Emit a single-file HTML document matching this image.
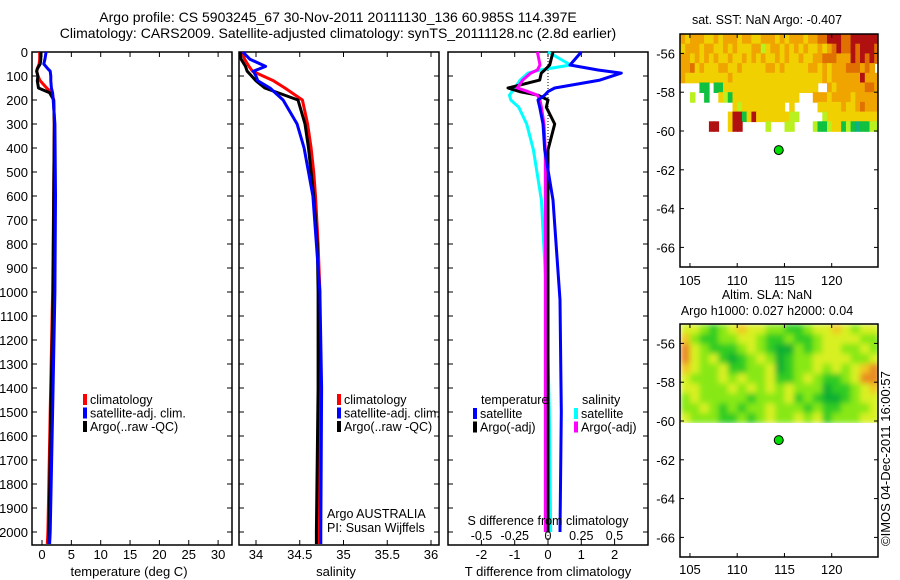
<!DOCTYPE html>
<html><head><meta charset="utf-8">
<style>
html,body{margin:0;padding:0;background:#fff;}
svg{display:block;font-family:"Liberation Sans",sans-serif;}
text{fill:#000;}
</style></head>
<body>
<svg id="fig" width="900" height="580" viewBox="0 0 900 580" xmlns="http://www.w3.org/2000/svg">
<text x="338" y="22" font-size="14" text-anchor="middle">Argo profile: CS 5903245_67 30-Nov-2011 20111130_136 60.985S 114.397E</text>
<text x="338" y="38" font-size="14" text-anchor="middle">Climatology: CARS2009. Satellite-adjusted climatology: synTS_20111128.nc (2.8d earlier)</text>
<g id="g1"></g>
<g id="g2"></g>
<g id="g3"></g>
<g id="g4"></g>
<g id="g5"></g>
<text transform="translate(890,546) rotate(-90)" font-size="13">©IMOS 04-Dec-2011 16:00:57</text>
</svg>
<script>
// ---- profile data ----
const tDepth = [0, 30, 50, 70, 80, 100, 120, 150, 170, 200, 300, 600, 1000, 1500, 2000, 2050];
const tClim  = [-0.4, -0.4, -0.5, -0.8, -0.9, -0.7, -0.3, 0.8, 1.7, 2.0, 2.1, 2.0, 1.8, 1.4, 1.0, 0.9];
const tSat   = [0.7, 0.5, 0.3, 1.0, 1.4, 1.5, 1.5, 1.6, 1.8, 1.9, 2.2, 2.3, 2.2, 1.8, 1.4, 1.3];
const tArgo  = [-0.2, -0.2, -0.3, -0.8, -0.9, -0.7, -0.8, -0.6, 1.3, 2.0, 2.1, 2.0, 1.9, 1.5, 1.2, 1.2];

const sDepth = [0, 30, 60, 80, 100, 120, 150, 200, 300, 400, 500, 600, 800, 1000, 1400, 2000, 2050];
const sClim  = [33.85, 33.87, 33.92, 33.96, 34.08, 34.2, 34.33, 34.53, 34.59, 34.63, 34.66, 34.68, 34.71, 34.73, 34.72, 34.71, 34.71];
const sSat   = [33.85, 33.93, 34.11, 33.97, 34.0, 34.02, 34.16, 34.31, 34.47, 34.55, 34.6, 34.65, 34.69, 34.73, 34.75, 34.74, 34.74];
const sArgo  = [33.82, 33.83, 33.88, 33.9, 33.95, 34.0, 34.1, 34.48, 34.56, 34.6, 34.63, 34.66, 34.7, 34.71, 34.71, 34.69, 34.69];

const dDepth    = [0, 54, 75, 88, 117, 150, 165, 180, 200, 230, 300, 408, 617, 1033, 1500, 2000];
const dTsat     = [1.0, 0.66, 1.5, 2.2, 1.56, 0.2, 0.0, -0.1, -0.3, -0.25, -0.15, -0.1, 0.15, 0.36, 0.4, 0.36];
const dTargo    = [0.15, 0.05, -0.1, -0.2, -0.25, -1.2, -0.85, -0.3, 0.0, -0.05, 0.2, 0.0, 0.0, 0.0, 0.0, 0.0];
const dSsat     = [0.0, 0.17, -0.06, -0.15, -0.21, -0.25, -0.27, -0.29, -0.28, -0.22, -0.16, -0.11, -0.05, -0.01, 0.01, 0.02];
const dSargo    = [-0.08, -0.06, -0.08, -0.13, -0.19, -0.23, -0.15, -0.08, -0.06, -0.05, -0.03, -0.02, -0.02, -0.02, -0.02, -0.02];

const depthTicks = [0,100,200,300,400,500,600,700,800,900,1000,1100,1200,1300,1400,1500,1600,1700,1800,1900,2000];
const tempTicks = [0,5,10,15,20,25,30];
const salTicks = [34,34.5,35,35.5,36];
const tdTicks = [-2,-1,0,1,2];
const sdTicks = [-0.5,-0.25,0,0.25,0.5];
const sdTickLabels = ["-0.5","-0.25","0","0.25","0.5"];

// ---- map data ----
const sstLon0 = 104, sstLat0 = -55, sstStepLon = 0.5, sstStepLat = 0.5;
const sstRows = [
 "oyoooyyoyoooyooyyoooyoyoooyoorrRRRrrRRRRRR",
 "yoooyooyyoyoyyyoolyooyoyoyoyyoyorRrrRrRRRr",
 "ooyoyoyoyyoyyoyoyoyyoyoyyoyyoorrroooRrRrRr",
 "ooryoyyyooyyoyyyyyooyoyyyyyooyoyooorrroro",
 "oyyyyyyyyyoyyyyyyyyyyyyyyyyyyyoyooooooRooo",
 "....gg.ggyyyyyyyyyyyyyyyyyyyy..oyoooooorroo",
 "..l..g..ylgyyyyyyyyyyyyyy...oooyooooyooooo",
 "...........ylyyyyyyyyy.y.....yyyyyoyyorooo",
 "..........yRRgyRyyyyyyyll.....lyyyyyyyyyyyy",
 "......RR..yRR.....l...ll....lgglyyglgtggll"
];
const sstColors = {y:"#f0d000", o:"#f0a400", r:"#e07000", R:"#b01010", l:"#b8f020", g:"#10c040", t:"#10b080"};

const slaRows = [
 "ddcbcdeddccbbcddedcdd",
 "ecbbccddcbbcbbcddddcc",
 "fdcbbbcdcbaacbcddccdc",
 "fdcdbabcdcabccddddccd",
 "edccdbbccdabccdcdcdef",
 "dcccdcdccdbbcdcbbcdff",
 "ddcccdcdcdcdcccabbcde",
 "cdcccccbcccdbcbaabcdd",
 "ccdcbcbccdcccbcbbcccd",
 "dcccbbcbcdccdcdbcccdd"
];
const slaColors = {a:"#10b030", b:"#30cc20", c:"#88e818", d:"#d8f020", e:"#f0c820", f:"#e88a20"};
const floatLon = 114.397, floatLat = -60.985;
const lonTicks = [105,110,115,120];
const latTicks = [-56,-58,-60,-62,-64,-66];

// ---- helpers ----
const NS = "http://www.w3.org/2000/svg";
function mk(parent, tag, attrs){ const e=document.createElementNS(NS,tag); for(const k in attrs) e.setAttribute(k,attrs[k]); parent.appendChild(e); return e; }
function txt(parent, x, y, s, size, anchor){ const t=mk(parent,"text",{x:x,y:y,"font-size":size,"text-anchor":anchor||"start"}); t.textContent=s; return t; }

const Y0 = 52, YPX = 0.24, YB = 545;
const yD = d => Y0 + d*YPX;

function frame(g, x0, x1, yt, yb){
  const r = mk(g,"rect",{x:x0,y:yt,width:x1-x0,height:yb-yt,fill:"none",stroke:"#000","stroke-width":1.5});
  
  
}
function depthAxis(g, x0, x1, labels){
  depthTicks.forEach(d=>{
    const y=yD(d);
    mk(g,"line",{x1:x0,x2:x0+5,y1:y,y2:y,stroke:"#000"});
    mk(g,"line",{x1:x1-5,x2:x1,y1:y,y2:y,stroke:"#000"});
    if(labels){ const t=txt(g,x0-4,y+5,String(d),13,"end");
      
       }
  });
}
function xAxis(g, ticks, sx, yt, yb, labelY, labels){
  ticks.forEach((v,i)=>{
    const x=sx(v);
    mk(g,"line",{x1:x,x2:x,y1:yt,y2:yt+5,stroke:"#000"});
    mk(g,"line",{x1:x,x2:x,y1:yb-5,y2:yb,stroke:"#000"});
    if(labelY){ const t=txt(g,x,labelY,labels?labels[i]:String(v),13,"middle");
      
       }
  });
}
function profile(g, depths, vals, sx, color, w, name){
  const pts = depths.map((d,i)=>sx(vals[i]).toFixed(1)+","+yD(d).toFixed(1)).join(" ");
  const p = mk(g,"polyline",{points:pts,fill:"none",stroke:color,"stroke-width":w,"stroke-linejoin":"round"});
  
  
}
function legend(g, x, y, items){
  items.forEach((it,i)=>{
    mk(g,"rect",{x:x,y:y+i*13.5-10,width:4,height:11,fill:it[1]});
    const t=txt(g,x+7,y+i*13.5,it[0],12.5);
    
    
  });
}

// ---- panel 1: temperature ----
const g1=document.getElementById("g1");
const sxT = v => 42 + v*5.87;
frame(g1,32,232,Y0,YB);
depthAxis(g1,32,232,true);
xAxis(g1,tempTicks,sxT,Y0,YB,559);
profile(g1,tDepth,tClim,sxT,"#ff0000",3,"temp-climatology-line");
profile(g1,tDepth,tArgo,sxT,"#000000",3,"temp-argo-line");
profile(g1,tDepth,tSat,sxT,"#0000ff",3,"temp-satellite-line");
legend(g1,83,404,[["climatology","#ff0000"],["satellite-adj. clim.","#0000ff"],["Argo(..raw -QC)","#000"]]);
{const t=txt(g1,129,576,"temperature (deg C)",13,"middle");  }

// ---- panel 2: salinity ----
const g2=document.getElementById("g2");
const sxS = v => 256 + (v-34)*87.5;
frame(g2,239,439,Y0,YB);
depthAxis(g2,239,439,false);
xAxis(g2,salTicks,sxS,Y0,YB,559);
profile(g2,sDepth,sClim,sxS,"#ff0000",3,"sal-climatology-line");
profile(g2,sDepth,sArgo,sxS,"#000000",3,"sal-argo-line");
profile(g2,sDepth,sSat,sxS,"#0000ff",3,"sal-satellite-line");
legend(g2,337,404,[["climatology","#ff0000"],["satellite-adj. clim.","#0000ff"],["Argo(..raw -QC)","#000"]]);
{const t=txt(g2,327,518,"Argo AUSTRALIA",12.5);  }
{const t=txt(g2,327,532,"PI: Susan Wijffels",12.5);  }
{const t=txt(g2,336,576,"salinity",13,"middle");  }

// ---- panel 3: differences ----
const g3=document.getElementById("g3");
const sxTD = v => 548 + v*33.3;
const sxSD = v => 548 + v*133;
frame(g3,448,648,Y0,YB);
depthAxis(g3,448,648,false);
xAxis(g3,tdTicks,sxTD,Y0,YB,559);
mk(g3,"line",{x1:548,x2:548,y1:Y0,y2:YB,stroke:"#000","stroke-dasharray":"1,2"});
profile(g3,dDepth,dSsat,sxSD,"#00ffff",3,"sdiff-satellite-line");
profile(g3,dDepth,dTargo,sxTD,"#000000",3,"tdiff-argo-line");
profile(g3,dDepth,dSargo,sxSD,"#ff00ff",3,"sdiff-argo-line");
profile(g3,dDepth,dTsat,sxTD,"#0000ff",3,"tdiff-satellite-line");
{const t=txt(g3,481,404,"temperature",12.5);  }
{const t=txt(g3,582,404,"salinity",12.5);  }
legend(g3,473,418,[["satellite","#0000ff"],["Argo(-adj)","#000"]]);
legend(g3,574,418,[["satellite","#00ffff"],["Argo(-adj)","#ff00ff"]]);
{const t=txt(g3,548,525,"S difference from climatology",12.5,"middle");  }
sdTicks.forEach((v,i)=>{const t=txt(g3,sxSD(v),540,sdTickLabels[i],12.5,"middle");
  
  });
{const t=txt(g3,548,576,"T difference from climatology",13,"middle");  }

// ---- maps ----
function map(g, yt, rows, colors, lon0, lat0, dLon, dLat, blur, title1, title2, labY){
  const mx = lon => 680.5 + (lon-104)*9.45;
  const my = lat => yt + (-55-lat)*19.4;
  const clipId = "clip"+yt;
  const defs = mk(g,"defs",{});
  const cp = mk(defs,"clipPath",{id:clipId});
  mk(cp,"rect",{x:680,y:yt,width:198,height:(-55-(-60.1))*19.4});
  if(blur){ const f=mk(defs,"filter",{id:"bl"+yt}); mk(f,"feGaussianBlur",{stdDeviation:3}); }
  const cg = mk(g,"g",{"clip-path":"url(#"+clipId+")"});
  const ig = blur ? mk(cg,"g",{filter:"url(#bl"+yt+")"}) : cg;
  rows.forEach((row,r)=>{
    for(let c=0;c<row.length;c++){
      const col = colors[row[c]]; if(!col) continue;
      const lon=lon0+c*dLon, lat=lat0-r*dLat;
      const x=mx(lon), y=my(lat), w=mx(lon+dLon)-x, h=my(lat-dLat)-y;
      const e=mk(ig,"rect",{x:x.toFixed(1),y:y.toFixed(1),width:(w+0.8).toFixed(1),height:(h+0.8).toFixed(1),fill:col});
      
      
    }
  });
  frame(g,680,878,yt,yt+233);
  lonTicks.forEach(v=>{const x=mx(v);
    mk(g,"line",{x1:x,x2:x,y1:yt,y2:yt+4,stroke:"#000"});
    mk(g,"line",{x1:x,x2:x,y1:yt+229,y2:yt+233,stroke:"#000"});
    const t=txt(g,x,labY,String(v),13,"middle");
    
    });
  latTicks.forEach(v=>{const y=my(v);
    mk(g,"line",{x1:680,x2:684,y1:y,y2:y,stroke:"#000"});
    mk(g,"line",{x1:874,x2:878,y1:y,y2:y,stroke:"#000"});
    const t=txt(g,675,y+5,String(v),13,"end");
    
    });
  const dot=mk(g,"circle",{cx:mx(floatLon),cy:my(floatLat),r:4.5,fill:"#00dd00",stroke:"#000","stroke-width":1});
  
  
  if(title2){
    const t1=txt(g,767,yt-25,title1,12.5,"middle");  
    const t2=txt(g,767,yt-9,title2,12.5,"middle");  
  } else {
    const t1=txt(g,767,yt-10,title1,12.5,"middle");  
  }
}
map(document.getElementById("g4"),34,sstRows,sstColors,sstLon0,sstLat0,sstStepLon,sstStepLat,false,"sat. SST: NaN Argo: -0.407",null,285);
map(document.getElementById("g5"),324,slaRows,slaColors,104,-55,1,0.51,true,"Altim. SLA: NaN","Argo h1000: 0.027 h2000: 0.04",574);
</script>
</body></html>
